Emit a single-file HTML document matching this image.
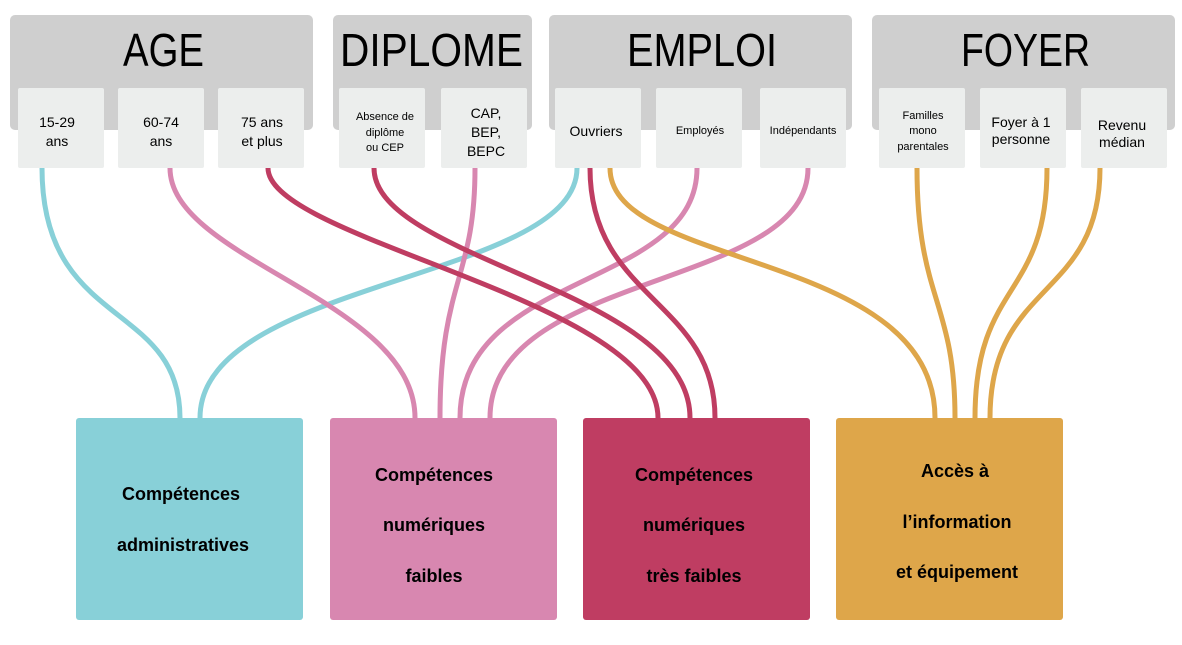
<!DOCTYPE html>
<html><head><meta charset="utf-8"><style>
body{margin:0;background:#fff}
svg{display:block}
text{font-family:"Liberation Sans",sans-serif;fill:#000}
</style></head><body>
<svg width="1182" height="645" viewBox="0 0 1182 645" xmlns="http://www.w3.org/2000/svg">
<g fill="#cfcfcf">
<rect x="10" y="15" width="303" height="115" rx="5"/>
<rect x="333" y="15" width="199" height="115" rx="5"/>
<rect x="549" y="15" width="303" height="115" rx="5"/>
<rect x="872" y="15" width="303" height="115" rx="5"/>
</g>
<g font-size="46" lengthAdjust="spacingAndGlyphs">
<text x="123" y="66" textLength="81" lengthAdjust="spacingAndGlyphs">AGE</text>
<text x="340" y="66" textLength="183" lengthAdjust="spacingAndGlyphs">DIPLOME</text>
<text x="627" y="66" textLength="150" lengthAdjust="spacingAndGlyphs">EMPLOI</text>
<text x="961" y="66" textLength="129" lengthAdjust="spacingAndGlyphs">FOYER</text>
</g>
<g fill="#eceeed">
<rect x="18" y="88" width="86" height="80" rx="2"/>
<rect x="118" y="88" width="86" height="80" rx="2"/>
<rect x="218" y="88" width="86" height="80" rx="2"/>
<rect x="339" y="88" width="86" height="80" rx="2"/>
<rect x="441" y="88" width="86" height="80" rx="2"/>
<rect x="555" y="88" width="86" height="80" rx="2"/>
<rect x="656" y="88" width="86" height="80" rx="2"/>
<rect x="760" y="88" width="86" height="80" rx="2"/>
<rect x="879" y="88" width="86" height="80" rx="2"/>
<rect x="980" y="88" width="86" height="80" rx="2"/>
<rect x="1081" y="88" width="86" height="80" rx="2"/>
</g>
<g font-size="14" text-anchor="middle">
<text x="57" y="127">15-29</text><text x="57" y="146">ans</text>
<text x="161" y="127">60-74</text><text x="161" y="146">ans</text>
<text x="262" y="127">75 ans</text><text x="262" y="146">et plus</text>
<text x="486" y="118">CAP,</text><text x="486" y="137">BEP,</text><text x="486" y="156">BEPC</text>
<text x="596" y="136">Ouvriers</text>
<text x="1021" y="127">Foyer à 1</text><text x="1021" y="144">personne</text>
<text x="1122" y="130">Revenu</text><text x="1122" y="147">médian</text>
</g>
<g font-size="11" text-anchor="middle">
<text x="385" y="120">Absence de</text><text x="385" y="136">diplôme</text><text x="385" y="151">ou CEP</text>
<text x="700" y="134">Employés</text>
<text x="803" y="134">Indépendants</text>
<text x="923" y="119">Familles</text><text x="923" y="134">mono</text><text x="923" y="150">parentales</text>
</g>
<g fill="none" stroke-width="5">
<path d="M42 168 C42 330 180 300 180 418" stroke="#88d0d8"/>
<path d="M577 168 C577 280 200 280 200 418" stroke="#88d0d8"/>
<path d="M170 168 C170 260 415 300 415 418" stroke="#d887b0"/>
<path d="M475 168 C475 280 440 280 440 418" stroke="#d887b0"/>
<path d="M697 168 C697 290 460 270 460 418" stroke="#d887b0"/>
<path d="M808 168 C808 290 490 270 490 418" stroke="#d887b0"/>
<path d="M268 168 C268 240 658 300 658 418" stroke="#bf3d62"/>
<path d="M374 168 C374 260 690 290 690 418" stroke="#bf3d62"/>
<path d="M590 168 C590 300 715 300 715 418" stroke="#bf3d62"/>
<path d="M610 168 C610 270 935 250 935 418" stroke="#dea64a"/>
<path d="M917 168 C917 300 955 300 955 418" stroke="#dea64a"/>
<path d="M1047 168 C1047 300 975 280 975 418" stroke="#dea64a"/>
<path d="M1100 168 C1100 300 990 280 990 418" stroke="#dea64a"/>
</g>
<rect x="76" y="418" width="227" height="202" rx="3" fill="#88d0d8"/>
<rect x="330" y="418" width="227" height="202" rx="3" fill="#d887b0"/>
<rect x="583" y="418" width="227" height="202" rx="3" fill="#bf3d62"/>
<rect x="836" y="418" width="227" height="202" rx="3" fill="#dea64a"/>
<g font-size="18" font-weight="bold" text-anchor="middle">
<text x="181" y="500">Compétences</text><text x="183" y="551">administratives</text>
<text x="434" y="481">Compétences</text><text x="434" y="531">numériques</text><text x="434" y="582">faibles</text>
<text x="694" y="481">Compétences</text><text x="694" y="531">numériques</text><text x="694" y="582">très faibles</text>
<text x="955" y="477">Accès à</text><text x="957" y="528">l’information</text><text x="957" y="578">et équipement</text>
</g>
</svg>
</body></html>
